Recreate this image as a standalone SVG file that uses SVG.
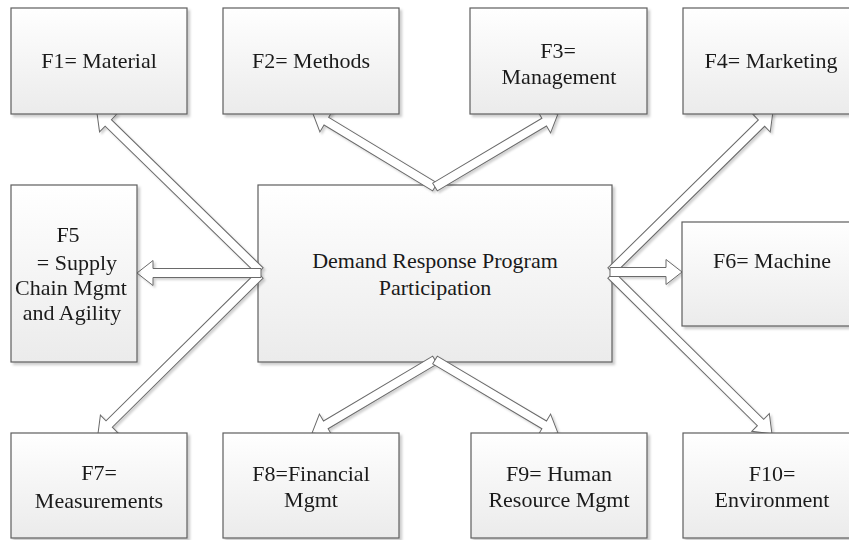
<svg xmlns="http://www.w3.org/2000/svg" width="849" height="540" viewBox="0 0 849 540">
  <defs>
    <linearGradient id="boxFill" x1="0" y1="0" x2="0" y2="1">
      <stop offset="0" stop-color="#ffffff"/>
      <stop offset="1" stop-color="#ebebeb"/>
    </linearGradient>
    <filter id="shadow" x="-10%" y="-10%" width="130%" height="130%">
      <feDropShadow dx="2.5" dy="2.5" stdDeviation="1.2" flood-color="#000" flood-opacity="0.2"/>
    </filter>
    <filter id="arrowShadow" x="-10%" y="-10%" width="130%" height="130%">
      <feDropShadow dx="2" dy="2" stdDeviation="1" flood-color="#000" flood-opacity="0.18"/>
    </filter>
  </defs>
  <style>
    .box { fill: url(#boxFill); stroke: #5e5e5e; stroke-width: 1.2; filter: url(#shadow); }
    .lbl { font-family: "Liberation Serif", "Times New Roman", serif; font-size: 22px; fill: #1a1a1a; text-anchor: middle; }
    .arrow { fill: #ffffff; stroke: #6a6a6a; stroke-width: 1; stroke-linejoin: miter; }
  </style>

  <rect width="849" height="540" fill="#ffffff"/>

  <!-- central node -->
  <g id="center">
    <rect class="box" x="258" y="185" width="354" height="177"/>
    <text class="lbl" x="435" y="268">Demand Response Program</text>
    <text class="lbl" x="435" y="295">Participation</text>
  </g>

  <!-- block arrows: shaft 9px, head 25px wide, 16px long; drawn along +x then rotated -->
  <g id="connectors" filter="url(#arrowShadow)">
    <path class="arrow" transform="translate(260,271) rotate(-135.7)" d="M0,-4.5 H212 V-12.5 L228,0 L212,12.5 V4.5 H0 Z"/>
    <path class="arrow" transform="translate(260,275) rotate(135.35)" d="M0,-4.5 H212 V-12.5 L228,0 L212,12.5 V4.5 H0 Z"/>
    <path class="arrow" transform="translate(261,273) rotate(180)" d="M0,-4.5 H108 V-12.5 L124,0 L108,12.5 V4.5 H0 Z"/>
    <path class="arrow" transform="translate(611,271) rotate(-44.5)" d="M0,-4.5 H211 V-12.5 L227,0 L211,12.5 V4.5 H0 Z"/>
    <path class="arrow" transform="translate(611,275) rotate(44.6)" d="M0,-4.5 H210 V-12.5 L226,0 L210,12.5 V4.5 H0 Z"/>
    <path class="arrow" transform="translate(610,272)" d="M0,-4.5 H56 V-12.5 L72,0 L56,12.5 V4.5 H0 Z"/>
    <path class="arrow" transform="translate(435,187) rotate(-148.8)" d="M0,-4.5 H127 V-12.5 L143,0 L127,12.5 V4.5 H0 Z"/>
    <path class="arrow" transform="translate(435,187) rotate(-30.7)" d="M0,-4.5 H127 V-12.5 L143,0 L127,12.5 V4.5 H0 Z"/>
    <path class="arrow" transform="translate(435,360) rotate(149.3)" d="M0,-4.5 H127 V-12.5 L143,0 L127,12.5 V4.5 H0 Z"/>
    <path class="arrow" transform="translate(435,360) rotate(30.7)" d="M0,-4.5 H127 V-12.5 L143,0 L127,12.5 V4.5 H0 Z"/>
  </g>

  <!-- top row -->
  <g id="f1">
    <rect class="box" x="11" y="8" width="176" height="106"/>
    <text class="lbl" x="99" y="68">F1= Material</text>
  </g>
  <g id="f2">
    <rect class="box" x="223" y="8" width="176" height="106"/>
    <text class="lbl" x="311" y="68">F2= Methods</text>
  </g>
  <g id="f3">
    <rect class="box" x="470" y="8" width="177" height="106"/>
    <text class="lbl" x="558" y="58">F3=</text>
    <text class="lbl" x="559" y="84">Management</text>
  </g>
  <g id="f4">
    <rect class="box" x="683" y="8" width="178" height="106"/>
    <text class="lbl" x="771" y="68">F4= Marketing</text>
  </g>

  <!-- middle row -->
  <g id="f5">
    <rect class="box" x="11" y="185" width="126" height="177"/>
    <text class="lbl" x="68" y="242">F5</text>
    <text class="lbl" x="77" y="270">= Supply</text>
    <text class="lbl" x="71" y="295">Chain Mgmt</text>
    <text class="lbl" x="72" y="320">and Agility</text>
  </g>
  <g id="f6">
    <rect class="box" x="682" y="222" width="180" height="104"/>
    <text class="lbl" x="772" y="268">F6= Machine</text>
  </g>

  <!-- bottom row -->
  <g id="f7">
    <rect class="box" x="11" y="433" width="176" height="105"/>
    <text class="lbl" x="99" y="480">F7=</text>
    <text class="lbl" x="99" y="508">Measurements</text>
  </g>
  <g id="f8">
    <rect class="box" x="223" y="433" width="176" height="105"/>
    <text class="lbl" x="311" y="481">F8=Financial</text>
    <text class="lbl" x="311" y="507">Mgmt</text>
  </g>
  <g id="f9">
    <rect class="box" x="471" y="433" width="176" height="105"/>
    <text class="lbl" x="559" y="481">F9= Human</text>
    <text class="lbl" x="559" y="507">Resource Mgmt</text>
  </g>
  <g id="f10">
    <rect class="box" x="683" y="433" width="178" height="105"/>
    <text class="lbl" x="772" y="481">F10=</text>
    <text class="lbl" x="772" y="507">Environment</text>
  </g>
</svg>
